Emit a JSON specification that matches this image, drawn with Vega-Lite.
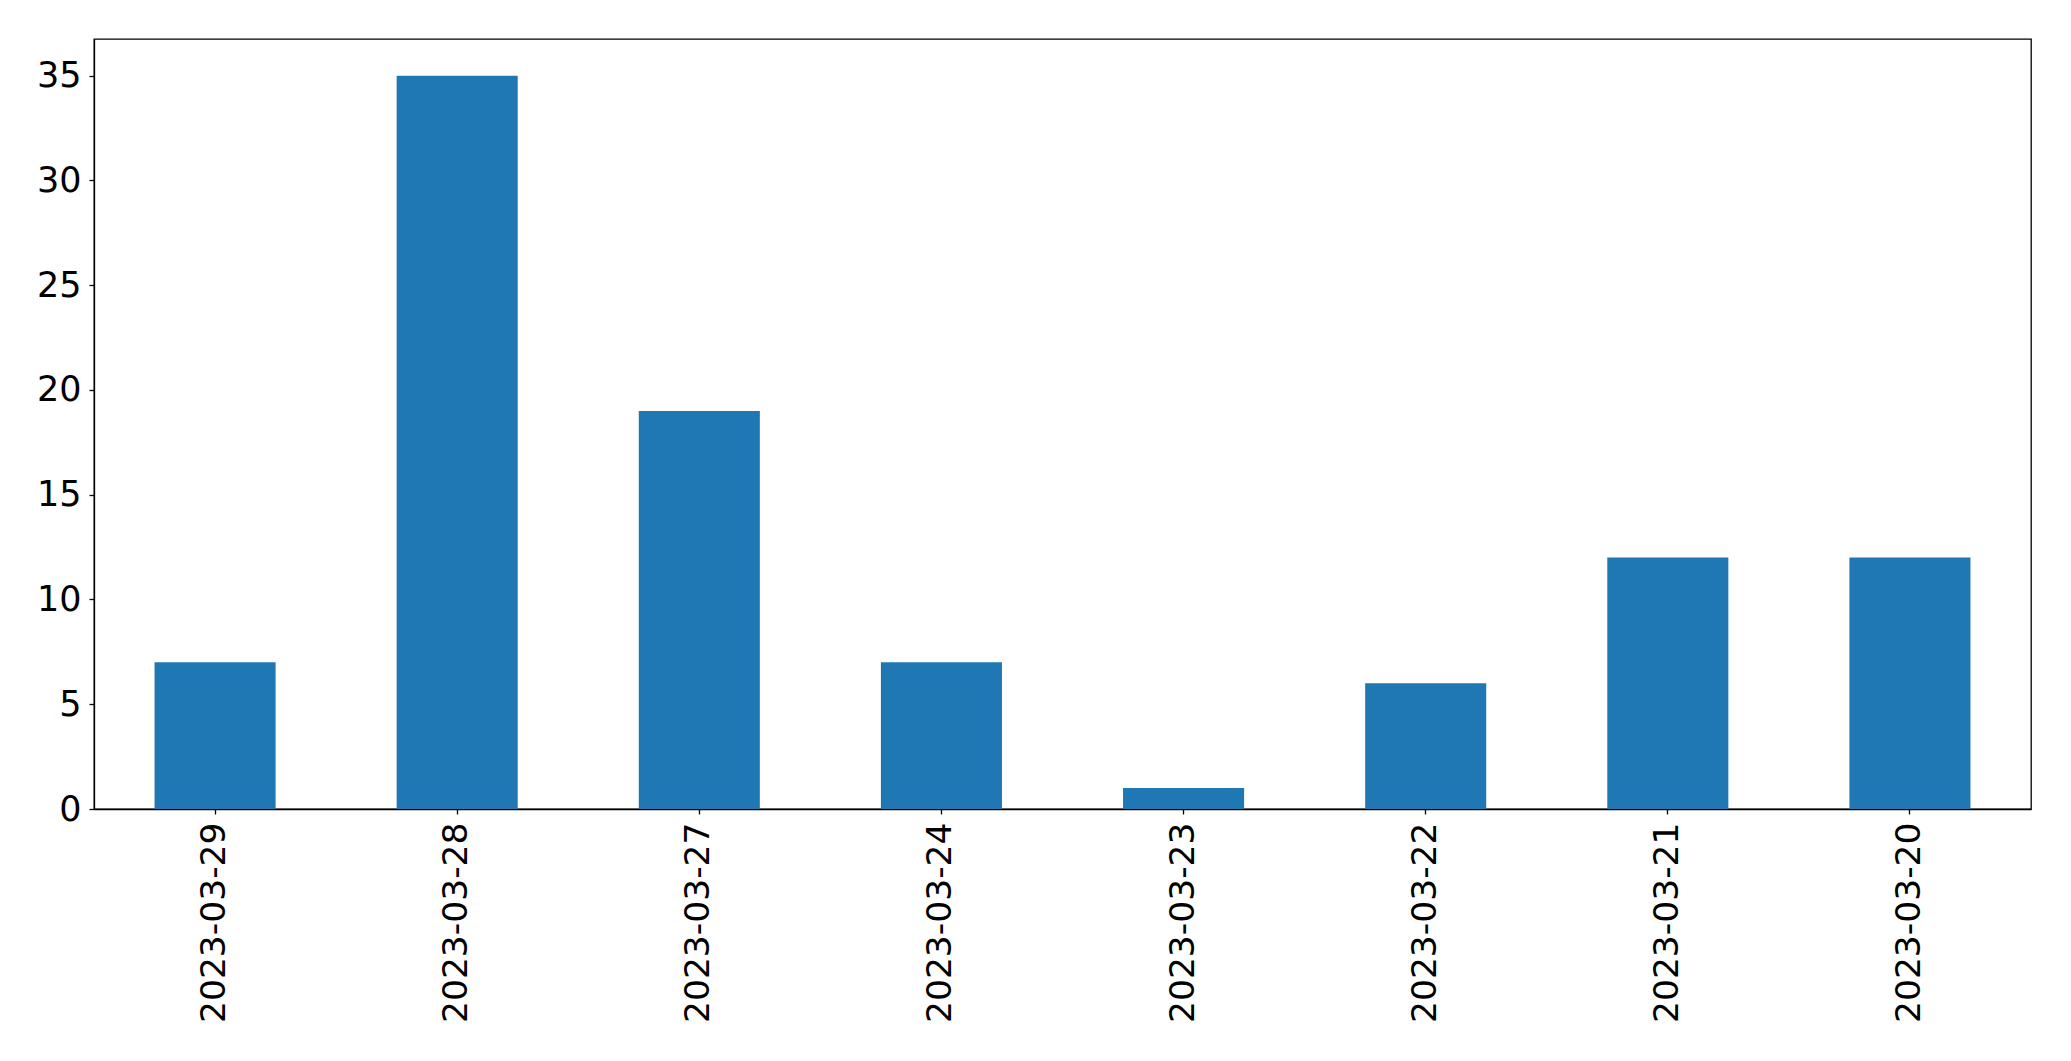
{
  "$schema": "https://vega.github.io/schema/vega-lite/v6.json",
  "width": 1937,
  "height": 770,
  "autosize": {"type": "none"},
  "padding": {"left": 94, "top": 39, "right": 40, "bottom": 252},
  "background": "white",
  "config": {
    "view": {"stroke": "black", "strokeWidth": 1.3},
    "font": "DejaVu Sans"
  },
  "data": {
    "values": [
      {"date": "2023-03-29", "count": 7},
      {"date": "2023-03-28", "count": 35},
      {"date": "2023-03-27", "count": 19},
      {"date": "2023-03-24", "count": 7},
      {"date": "2023-03-23", "count": 1},
      {"date": "2023-03-22", "count": 6},
      {"date": "2023-03-21", "count": 12},
      {"date": "2023-03-20", "count": 12}
    ]
  },
  "mark": {"type": "bar", "color": "#1f77b4"},
  "encoding": {
    "x": {
      "field": "date",
      "type": "nominal",
      "sort": null,
      "scale": {"paddingInner": 0.5, "paddingOuter": 0.25},
      "axis": {
        "title": null,
        "labelAngle": -90,
        "labelAlign": "right",
        "labelBaseline": "middle",
        "labelFont": "DejaVu Sans",
        "labelFontSize": 34.5,
        "labelLimit": 0,
        "labelColor": "black",
        "labelPadding": 8,
        "tickColor": "black",
        "tickSize": 5,
        "tickWidth": 1.3,
        "domainColor": "black",
        "domainWidth": 1.3,
        "grid": false
      }
    },
    "y": {
      "field": "count",
      "type": "quantitative",
      "scale": {"domain": [0, 36.75], "nice": false, "zero": true},
      "axis": {
        "title": null,
        "values": [0, 5, 10, 15, 20, 25, 30, 35],
        "labelFont": "DejaVu Sans",
        "labelFontSize": 35,
        "labelColor": "black",
        "labelPadding": 8,
        "tickColor": "black",
        "tickSize": 5,
        "tickWidth": 1.3,
        "domainColor": "black",
        "domainWidth": 1.3,
        "grid": false
      }
    }
  }
}
